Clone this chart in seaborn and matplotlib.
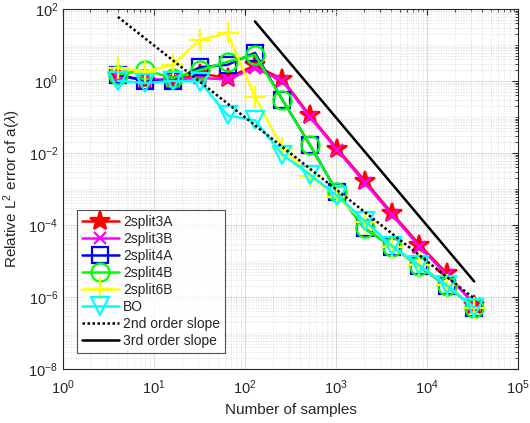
import numpy as np
import pandas as pd
import matplotlib
matplotlib.use("Agg")
import matplotlib.pyplot as plt
import seaborn as sns
from matplotlib.ticker import LogLocator, NullFormatter

samples = [4, 8, 16, 32, 64, 128, 256, 512, 1024, 2048, 4096, 8192, 16384, 32768]
err_2split3A = [1.5, 1.0, 1.0, 1.6, 1.2, 2.7, 1.1, 0.11, 0.013, 1.7e-3, 2.1e-4, 2.8e-5, 4.5e-6, 6.0e-7]
err_2split3B = [1.3, 1.1, 1.1, 1.2, 1.1, 2.3, 1.0, 0.10, 0.012, 1.5e-3, 1.9e-4, 2.5e-5, 4.0e-6, 6.5e-7]
err_2split4A = [1.5, 1.0, 1.0, 2.4, 2.8, 6.0, 0.30, 0.017, 8.0e-4, 8.0e-5, 2.5e-5, 7.0e-6, 2.0e-6, 5.0e-7]
err_2split4B = [1.5, 2.0, 1.2, 2.0, 3.4, 5.3, 0.30, 0.017, 8.0e-4, 8.0e-5, 2.5e-5, 7.0e-6, 2.0e-6, 5.0e-7]
err_2split6B = [2.3, 1.8, 2.8, 14.0, 21.0, 0.36, 0.014, 2.3e-3, 6.0e-4, 1.2e-4, 2.5e-5, 7.5e-6, 2.1e-6, 5.0e-7]
err_BO = [1.0, 0.87, 1.0, 0.95, 0.11, 0.08, 0.009, 2.5e-3, 6.5e-4, 1.3e-4, 2.6e-5, 7.5e-6, 2.1e-6, 5.0e-7]
slope2_x = [4, 32768]
slope2_c = 960.0
slope3_x = [128, 32768]
slope3_c = 9.4e7

series = [
    ("2split3A", err_2split3A, "#ff0000", "*", "#ff0000", 15),
    ("2split3B", err_2split3B, "#ff00ff", "x", "none", 9),
    ("2split4A", err_2split4A, "#0000ff", "s", "none", 12),
    ("2split4B", err_2split4B, "#00ff00", "o", "none", 13),
    ("2split6B", err_2split6B, "#ffff00", "+", "none", 16),
    ("BO", err_BO, "#00ffff", "v", "none", 13),
]

sns.set_style("white")
plt.rcParams['font.family'] = ['Liberation Sans', 'DejaVu Sans']
plt.rcParams['mathtext.fontset'] = 'custom'
plt.rcParams['mathtext.rm'] = 'Liberation Sans'
plt.rcParams['mathtext.it'] = 'Liberation Sans:italic'

fig = plt.figure(figsize=(5.30, 4.23), dpi=100)
ax = fig.add_axes([0.119, 0.128, 0.859, 0.851])

txtc = "#262626"
for name, vals, col, mk, mfc, ms in series:
    df = pd.DataFrame({"N": samples, "err": vals})
    sns.lineplot(data=df, x="N", y="err", ax=ax, color=col, marker=mk,
                 markersize=ms, markerfacecolor=mfc, markeredgecolor=col,
                 markeredgewidth=1.6, linewidth=1.8, label=name, zorder=3)

s2 = pd.DataFrame({"N": slope2_x, "err": [slope2_c / n**2 for n in slope2_x]})
sns.lineplot(data=s2, x="N", y="err", ax=ax, color="black", linestyle=(0, (1, 1)),
             linewidth=1.8, label="2nd order slope", zorder=3)
s3 = pd.DataFrame({"N": slope3_x, "err": [slope3_c / n**3 for n in slope3_x]})
sns.lineplot(data=s3, x="N", y="err", ax=ax, color="black", linestyle="-",
             linewidth=1.8, label="3rd order slope", zorder=3)

ax.set_xscale("log")
ax.set_yscale("log")
ax.set_xlim(1, 1e5)
ax.set_ylim(1e-8, 1e2)
ax.set_xticks([10.0**k for k in range(0, 6)])
ax.set_yticks([10.0**k for k in range(-8, 3, 2)])
ax.xaxis.set_minor_locator(LogLocator(base=10, subs=np.arange(2, 10), numticks=20))
ax.yaxis.set_minor_locator(LogLocator(base=10, subs=np.arange(1, 10), numticks=40))
ax.yaxis.set_minor_formatter(NullFormatter())
ax.xaxis.set_minor_formatter(NullFormatter())

ax.grid(True, which="major", color="#dcdcdc", linewidth=0.8, zorder=0)
ax.grid(True, which="minor", color="#d0d0d0", linestyle=(0, (1, 2)), linewidth=0.6, zorder=0)
ax.set_axisbelow(True)

for sp in ax.spines.values():
    sp.set_color(txtc)
    sp.set_linewidth(0.8)
    sp.set_visible(True)
ax.tick_params(which="both", direction="in", top=True, right=True, colors=txtc, labelsize=10.5)
ax.tick_params(which="major", length=4)
ax.tick_params(which="minor", length=2)
ax.tick_params(axis="x", pad=7)

ax.set_xlabel("Number of samples", fontsize=11, color=txtc)
ax.set_ylabel(r"Relative L$^2$ error of a($\lambda$)", fontsize=11, color=txtc)

leg = ax.legend(loc="lower left", bbox_to_anchor=(0.015, 0.025), fontsize=10, frameon=True,
                fancybox=False, edgecolor=txtc, handlelength=2.7, borderpad=0.35,
                labelspacing=0.22, handletextpad=0.3)
leg.get_frame().set_linewidth(0.8)
for t in leg.get_texts():
    t.set_color(txtc)

fig.savefig("out.png", dpi=100)
